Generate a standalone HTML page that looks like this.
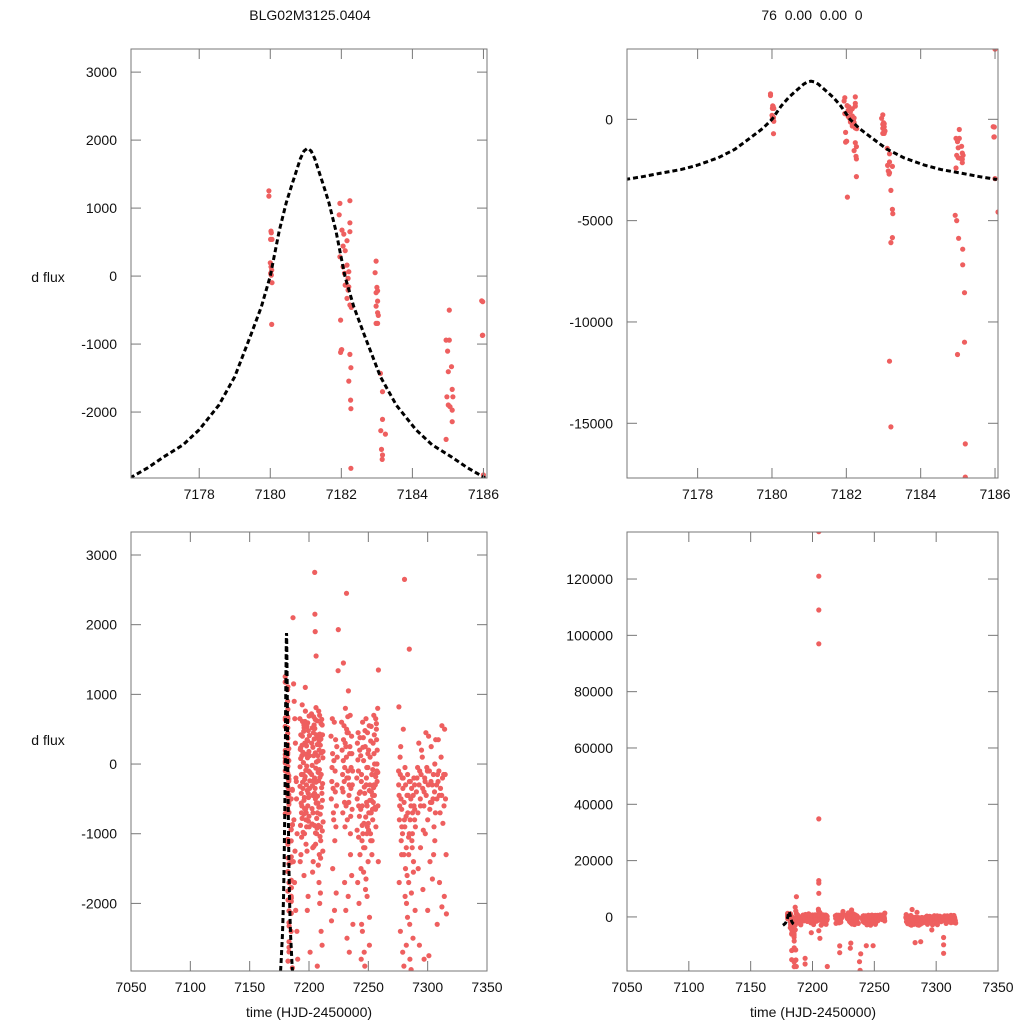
<!DOCTYPE html>
<html><head><meta charset="utf-8"><style>
html,body{margin:0;padding:0;background:#fff;}
svg{display:block;font-family:"Liberation Sans",sans-serif;}
</style></head><body>
<svg id="fig" width="1024" height="1024" viewBox="0 0 1024 1024">
<text x="310" y="20" text-anchor="middle" font-size="14" fill="#111">BLG02M3125.0404</text>
<text x="812" y="20" text-anchor="middle" font-size="14" fill="#111" xml:space="preserve">76  0.00  0.00  0</text>
<text x="48" y="282" text-anchor="middle" font-size="14" fill="#111">d flux</text>
<text x="48" y="745" text-anchor="middle" font-size="14" fill="#111">d flux</text>
<text x="309" y="1017" text-anchor="middle" font-size="14" fill="#111">time (HJD-2450000)</text>
<text x="813" y="1017" text-anchor="middle" font-size="14" fill="#111">time (HJD-2450000)</text>
</svg>
<script>
// model curve (offset from peak time, flux)
const modelPeak = 7181.05;
const modelDt = [-5.0,-4.5,-4.05,-3.5,-3.05,-2.5,-2.05,-1.6,-1.3,-1.05,-0.8,-0.6,-0.45,-0.3,-0.2,-0.1,0,0.1,0.2,0.3,0.45,0.6,0.8,1.05,1.3,1.6,2.05,2.5,3.05,3.5,4.05,4.5,5.0];
const modelF = [-2970,-2820,-2660,-2480,-2260,-1900,-1480,-870,-450,0,660,1080,1330,1570,1730,1840,1880,1840,1730,1570,1330,1080,660,0,-450,-870,-1480,-1900,-2260,-2480,-2660,-2820,-2970];

// data near peak
const peakT = [7179.96,7179.96,7180.02,7180.03,7180.01,7180.05,7180.0,7180.02,7180.04,7180.01,7180.03,7180.05,7180.04,
7181.96,7182.24,7181.94,7182.24,7182.24,7182.02,7182.07,7182.16,7182.05,7182.11,7181.96,7182.16,7182.05,7182.21,7182.09,7182.19,7182.11,7182.21,7182.19,7182.16,7182.24,7182.28,7181.98,7182.0,7181.98,7182.24,7182.27,7182.21,7182.26,7182.27,7182.27,7182.03,
7182.98,7182.95,7183.0,7183.02,7182.98,7183.02,7182.98,7183.02,7183.04,7182.98,7183.02,7183.1,7183.16,7183.16,7183.11,7183.24,7183.13,7183.16,7183.15,
7183.2,7183.24,7183.25,7183.24,7183.2,7183.16,7183.2,
7185.04,7184.95,7185.04,7184.99,7185.01,7185.1,7185.12,7184.97,7185.14,7185.01,7185.06,7185.12,7185.12,7184.95,
7184.93,7184.97,7185.02,7185.13,7185.13,7185.18,7185.18,7184.99,7185.2,7185.2,
7185.95,7185.97,7186.0,7186.0,7185.98,7185.98,7186.08,7182.01];
const peakF = [1255,1176,662,637,539,539,196,137,88,39,15,-98,-711,
1069,1108,902,784,652,676,618,520,441,373,284,162,137,64,39,-34,-132,-157,-206,-328,-426,-461,-647,-1088,-1122,-1152,-1348,-1544,-1824,-1951,-2828,-3836,
221,49,-167,-216,-245,-368,-441,-539,-578,-696,-696,-1431,-1701,-2108,-2275,-2324,-2549,-2632,-2696,
-3508,-4443,-4656,-5836,-6082,-11934,-15180,
-500,-941,-941,-1103,-1407,-1333,-1667,-1775,-1775,-1897,-1922,-1971,-2142,-2402,
-4738,-5000,-5869,-6410,-7180,-8557,-10999,-11606,-16016,-17656,
-363,-873,-2926,3459,-377,-869,-4574,-1082];

// season data
const seasonAT = [7186.5,7187,7187.5,7188,7188.5,7189,7189.5,7190,7186.8,7187.8,7188.8,7189.8,7190.5,7187.3,7188.2,7189.3,7187,7186.4,7186.6,7186.9];
const seasonAF = [2100,1150,900,650,300,-200,-500,-1000,-1400,-1700,-2100,-2400,-2800,-800,-1250,-250,7200,-11700,-15300,-17600];
const seasonBT = [7192.3,7193.1,7194.0,7194.8,7195.6,7196.5,7197.3,7198.2,7199.0,7199.9,7200.7,7192.8,7193.6,7194.5,7195.3,7196.1,7197.0,7197.8,7198.7,7199.5,7200.3,7192.5,7193.4,7194.2,7195.0,7195.9,7196.7,7197.6,7198.4,7199.3,7200.1,7192.9,7193.8,7194.6,7195.5,7196.3,7197.2,7198.0,7198.9,7199.7,7200.5,7193.2,7195.8,7197.5,7199.2,7194.3,7196.9,7198.6,7200.9,7192.6,7194,7194,7199];
const seasonBF = [650,420,120,-350,-720,300,-90,540,-600,180,-240,-880,-150,610,20,-480,760,-300,90,-820,410,-40,-560,270,-980,520,-180,-700,350,-420,690,230,-1050,-260,470,-640,140,-900,590,-100,-350,-1300,-1600,-1150,-1900,850,1100,-2100,-2700,-1400,-14700,-16700,-5600];
const seasonB2T = [7192.4,7193.0,7193.7,7194.4,7195.1,7195.8,7196.6,7197.4,7198.1,7198.8,7199.6,7200.4,7192.7,7193.5,7194.2,7194.9,7195.7,7196.4,7197.1,7197.9,7198.5,7199.4,7200.2,7200.8,7193.9,7196.2,7198.3,7200.0];
const seasonB2F = [-320,80,-700,400,-150,-520,610,-800,-30,330,-480,120,210,-420,-780,170,560,-220,-650,260,-380,480,-900,-120,-600,-1000,-1250,-750];
const seasonCT = [7202.1,7202.9,7203.7,7204.5,7205.3,7206.1,7206.9,7207.7,7208.5,7209.3,7210.1,7210.9,7211.7,
7202.5,7203.3,7204.1,7204.9,7205.7,7206.5,7207.3,7208.1,7208.9,7209.7,7210.5,7211.3,
7202.3,7203.1,7203.9,7204.7,7205.5,7206.3,7207.1,7207.9,7208.7,7209.5,7210.3,7211.1,7211.9,
7202.7,7203.5,7204.3,7205.1,7205.9,7206.7,7207.5,7208.3,7209.1,7209.9,7210.7,7211.5,
7204.8,7205.0,7205.2,7206.0,7208.4,7209.0,7210.2,7211.0,7203.0,7207.0,7209.6,
7205.1,7205.1,7205.1,7205.1,7205.1,7205.1,7205.1,7205.1,7205.1,7206,7212];
const seasonCF = [720,-310,450,-880,160,-560,620,-120,330,-1040,580,-420,90,
-640,240,-1180,510,-60,-780,380,-240,700,-900,160,-520,
300,-450,680,-200,-990,420,-700,50,-1300,270,-150,560,-830,
-20,-1400,560,-350,810,-920,120,-620,430,-1100,640,-280,
2750,2150,1900,1550,-1700,-2000,-2400,-2600,-1550,-2900,-1850,
136800,121000,109000,97000,34800,12900,12000,8400,-4900,-7600,-17600];
const seasonC2T = [7202.2,7202.8,7203.4,7204.0,7204.6,7205.2,7205.8,7206.4,7207.0,7207.6,7208.2,7208.8,7209.4,7210.0,7210.6,7211.2,7211.8,7202.6,7203.6,7204.4,7205.4,7206.2,7207.2,7208.0,7208.6,7209.2,7210.4,7211.4,7203.2,7205.6,7207.8,7209.8,7211.6];
const seasonC2F = [-150,520,-700,120,-420,640,-260,-1000,280,-560,760,-80,-720,360,-340,-960,180,-860,-240,360,-500,30,-460,-880,200,-190,-620,420,-1200,-1150,-1450,-1350,-1250];
const seasonDT = [7218.5,7219.2,7219.9,7220.6,7221.3,7222.0,7222.7,7223.4,7218.8,7219.6,7220.3,7221.0,7221.7,7222.4,7223.1,7223.8,7220.0,7221.5,7222.9,7219.0,7224.7,7224.5,7222,7222,7219.4,7220.8,7222.2,7223.6];
const seasonDF = [400,-250,150,-700,600,-100,-900,250,-500,650,-350,50,-1100,350,-600,100,-1500,-2100,-1850,-2250,1930,1340,-12700,-10300,-50,-800,-400,-300];
const seasonET = [7227.5,7228.3,7229.1,7229.9,7230.7,7231.5,7232.3,7233.1,7233.9,7234.7,7235.5,7236.3,7227.9,7228.7,7229.5,7230.3,7231.1,7231.9,7232.7,7233.5,7234.3,7235.1,7235.9,7236.7,7230.0,7231.0,7232.0,7233.0,7234.0,7235.0,7236.0,7237.0,7229.0,7231.6,7233.2,7230.6,7231,7238,7238.5,7239];
const seasonEF = [600,-150,350,-550,800,100,-800,450,-300,700,-50,-650,200,-400,550,-900,250,-200,680,-550,150,-750,400,-100,-1700,-2100,-2500,-1900,-2700,-1300,-1600,-2300,1450,2450,1050,-11100,-9300,-15900,-19000,-13100];
const seasonE2T = [7228.0,7228.9,7229.7,7230.5,7231.3,7232.1,7232.9,7233.7,7234.5,7235.3,7236.1,7228.5,7230.1,7231.7,7233.3,7234.9,7236.5];
const seasonE2F = [-350,50,-250,300,-600,450,-100,-450,250,-350,150,-700,-50,500,-200,-1000,-300];
const seasonFT = [7240.3,7241.4,7242.5,7243.6,7244.7,7245.8,7246.9,7248.0,7249.1,7250.2,7251.3,7252.4,7253.5,7254.6,7255.7,7256.8,7257.9,
7240.8,7241.9,7243.0,7244.1,7245.2,7246.3,7247.4,7248.5,7249.6,7250.7,7251.8,7252.9,7254.0,7255.1,7256.2,7257.3,7258.4,
7240.5,7241.6,7242.7,7243.8,7244.9,7246.0,7247.1,7248.2,7249.3,7250.4,7251.5,7252.6,7253.7,7254.8,7255.9,7257.0,7258.1,
7241.0,7242.1,7243.2,7244.3,7245.4,7246.5,7247.6,7248.7,7249.8,7250.9,7252.0,7253.1,7254.2,7255.3,7256.4,7257.5,7245.0,7247.0,7249.0,7251.0,7253.0,7244.0,7246.0,7248.0,7258.5,7243.5,7249];
const seasonFF = [-200,450,-750,120,-1100,380,-420,650,-900,200,-300,540,-650,700,-150,500,800,
300,-600,-1300,-250,600,-850,250,-550,-50,550,-1000,-150,300,-450,650,0,-1400,
-950,-100,200,-1500,-600,50,-1200,-300,450,-700,100,-400,-800,150,-300,350,-600,
-1700,-2000,-400,-2300,-1000,-2700,-1800,-50,-1400,-2600,-1100,-150,-550,0,-900,200,-2400,-2900,-1900,-2200,-1300,-2800,-1550,-1650,1350,-10200,-10200];
const seasonF2T = [7240.6,7241.2,7241.8,7242.4,7243.0,7243.6,7244.2,7244.8,7245.4,7246.0,7246.6,7247.2,7247.8,7248.4,7249.0,7249.6,7250.2,7250.8,7251.4,7252.0,7252.6,7253.2,7253.8,7254.4,7255.0,7255.6,7256.2,7256.8,7257.4,7258.0,7248.8,7250.0,7251.2,7252.4,7253.6,7254.8,7256.0,7257.2];
const seasonF2F = [-500,60,-1050,-420,380,-650,-150,-880,240,-1200,-330,480,-760,-200,-600,150,-950,-380,-700,330,-520,-1100,-80,-340,420,-620,-180,580,-250,-120,-1000,-850,-520,-700,-450,-300,-650,-100];
const seasonGT = [7275.5,7276.4,7277.3,7278.2,7279.1,7280.0,7280.9,7281.8,7282.7,7283.6,7284.5,7285.4,7286.3,7287.2,7288.1,7289.0,
7275.9,7276.8,7277.7,7278.6,7279.5,7280.4,7281.3,7282.2,7283.1,7284.0,7284.9,7285.8,7286.7,7287.6,7288.5,7289.4,
7276.0,7277.0,7278.0,7279.0,7280.0,7281.0,7282.0,7283.0,7284.0,7285.0,7286.0,7287.0,7288.0,7289.0,7280.5,7284.5,7275.8,7283,7287.5];
const seasonGF = [-100,-600,250,-900,-350,-1300,-50,-750,-1600,-450,-1000,-250,-1850,-700,-1400,-300,
-450,100,-1100,-200,500,-800,-1500,-2000,-150,-1300,-2300,-500,-1100,-2500,-600,-2100,
-1700,-2400,-1300,-2700,-2900,-1900,-2600,-2200,-1700,-2800,-2950,-1200,-1550,-800,2650,1650,820,-9100,-8800];
const seasonG2T = [7275.6,7276.2,7276.9,7277.5,7278.1,7278.8,7279.4,7280.1,7280.7,7281.4,7282.0,7282.6,7283.3,7283.9,7284.6,7285.2,7285.9,7286.5,7287.1,7287.8,7288.4,7289.1,7289.7];
const seasonG2F = [-300,-800,-150,-500,-650,-1000,-200,-550,-900,-300,-1200,-450,-700,-1050,-250,-800,-600,-350,-1000,-450,-200,-650,-900];
const seasonHT = [7291,7292.5,7294,7295.5,7297,7298.5,7300,7301.5,7303,7304.5,7306,7307.5,7309,7310.5,7312,7313.5,7315,
7291.8,7293.3,7294.8,7296.3,7297.8,7299.3,7300.8,7302.3,7303.8,7305.3,7306.8,7308.3,7309.8,7311.3,7312.8,7314.3,7315.5,
7292,7294,7296,7298,7300,7302,7304,7306,7308,7310,7312,7314,7315.8,7293,7297,7301,7305,7306,7306,7306,7296.5];
const seasonHF = [-200,300,-600,100,-400,450,-800,-100,250,-500,0,-300,350,-700,550,-150,-500,
-700,-100,200,-950,-250,-50,400,-550,-300,-900,350,-150,-450,100,-850,500,-1300,
-1500,-1200,-1800,-1000,-2100,-1400,-1650,-1100,-2300,-1700,-2050,-1900,-2150,-2600,-2800,-2750,-1300,-12900,-9900,-7300,-4600];
const seasonH2T = [7290.5,7291.5,7292.8,7293.8,7294.5,7295.8,7296.8,7297.5,7298.8,7299.8,7300.5,7301.8,7302.8,7303.5,7304.8,7305.8,7306.5,7307.8,7308.8,7309.5,7310.8,7311.8,7312.5,7313.8,7314.8];
const seasonH2F = [-400,-50,-300,-500,-150,-350,-600,-200,-450,-100,-300,-650,-250,-550,-150,-400,-700,-500,-250,-100,-350,-450,-200,-600,-150];

// axis ticks
const tlXTicks = [7178,7180,7182,7184,7186];
const tlYTicks = [-2000,-1000,0,1000,2000,3000];
const trYTicks = [-15000,-10000,-5000,0];
const blXTicks = [7050,7100,7150,7200,7250,7300,7350];
const blYTicks = [-2000,-1000,0,1000,2000,3000];
const brYTicks = [0,20000,40000,60000,80000,100000,120000];

const NS = 'http://www.w3.org/2000/svg';
const svg = document.getElementById('fig');
function mk(tag, attrs, parent){const e=document.createElementNS(NS,tag);for(const k in attrs)e.setAttribute(k,attrs[k]);(parent||svg).appendChild(e);return e;}

const allT = [].concat(peakT,seasonAT,seasonBT,seasonB2T,seasonCT,seasonC2T,seasonDT,seasonET,seasonE2T,seasonFT,seasonF2T,seasonGT,seasonG2T,seasonHT,seasonH2T);
const allF = [].concat(peakF,seasonAF,seasonBF,seasonB2F,seasonCF,seasonC2F,seasonDF,seasonEF,seasonE2F,seasonFF,seasonF2F,seasonGF,seasonG2F,seasonHF,seasonH2F);

function panel(id, L, R, T, B, x0, x1, y0, y1, xt, yt){
  const sx = v => L + (v - x0) / (x1 - x0) * (R - L);
  const sy = v => B - (v - y0) / (y1 - y0) * (B - T);
  const g = mk('g', {});
  
  
  const cp = mk('clipPath', {id: id + '-clip'}, g);
  mk('rect', {x: L, y: T, width: R - L, height: B - T}, cp);
  const pts = mk('g', {'clip-path': 'url(#' + id + '-clip)'}, g);
  
  
  const n = Math.min(allT.length, allF.length);
  for (let i = 0; i < n; i++) {
    const px = sx(allT[i]), py = sy(allF[i]);
    if (px < L - 5 || px > R + 5 || py < T - 5 || py > B + 5) continue;
    const c = mk('circle', {cx: px.toFixed(1), cy: py.toFixed(1), r: 2.6, fill: '#ee5f5f'}, pts);
    
    
  }
  let d = '';
  for (let i = 0; i < modelDt.length; i++) {
    d += (i ? 'L' : 'M') + sx(modelPeak + modelDt[i]).toFixed(2) + ' ' + sy(modelF[i]).toFixed(2);
  }
  const line = mk('path', {d: d, fill: 'none', stroke: '#000', 'stroke-width': 3, 'stroke-dasharray': '5 3', 'clip-path': 'url(#' + id + '-clip)'}, g);
  
  
  const fr = mk('rect', {x: L, y: T, width: R - L, height: B - T, fill: 'none', stroke: '#777', 'stroke-width': 1}, g);
  
  
  xt.forEach(v => {
    const x = sx(v);
    mk('line', {x1: x, x2: x, y1: B, y2: B - 10, stroke: '#777'}, g);
    mk('line', {x1: x, x2: x, y1: T, y2: T + 10, stroke: '#777'}, g);
    const t = mk('text', {x: x, y: B + 21, 'text-anchor': 'middle', 'font-size': 14, fill: '#111'}, g);
    t.textContent = v;
    
    
  });
  yt.forEach(v => {
    const y = sy(v);
    mk('line', {x1: L, x2: L + 10, y1: y, y2: y, stroke: '#777'}, g);
    mk('line', {x1: R, x2: R - 10, y1: y, y2: y, stroke: '#777'}, g);
    const t = mk('text', {x: L - 14, y: y + 5, 'text-anchor': 'end', 'font-size': 14, fill: '#111'}, g);
    t.textContent = v;
    
    
  });
}
panel('top-left', 131, 487, 49, 478, 7176.08, 7186.1, -2970, 3340, tlXTicks, tlYTicks);
panel('top-right', 627, 998, 49, 478, 7176.1, 7186.08, -17700, 3470, tlXTicks, trYTicks);
panel('bottom-left', 131, 487, 532, 971, 7050, 7350, -2970, 3330, blXTicks, blYTicks);
panel('bottom-right', 627, 998, 532, 971, 7050, 7350, -19200, 136700, blXTicks, brYTicks);
</script>
</body></html>
